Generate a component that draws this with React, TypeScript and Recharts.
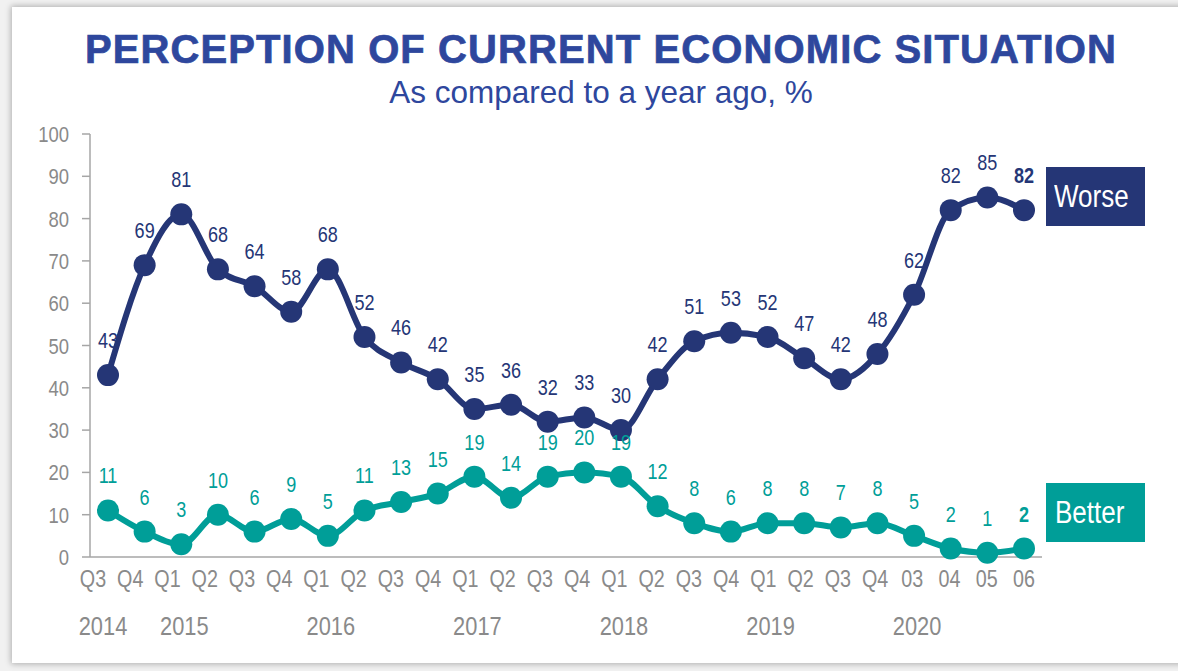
import React from "react";
import { LineChart, Line, XAxis, YAxis } from "recharts";

const quarters = ["Q3","Q4","Q1","Q2","Q3","Q4","Q1","Q2","Q3","Q4","Q1","Q2","Q3","Q4","Q1","Q2","Q3","Q4","Q1","Q2","Q3","Q4","03","04","05","06"];
const years = ["2014","","2015","","","","2016","","","","2017","","","","2018","","","","2019","","","","2020","","",""];
const worse = [43,69,81,68,64,58,68,52,46,42,35,36,32,33,30,42,51,53,52,47,42,48,62,82,85,82];
const better = [11,6,3,10,6,9,5,11,13,15,19,14,19,20,19,12,8,6,8,8,7,8,5,2,1,2];
const yTicks = [0,10,20,30,40,50,60,70,80,90,100];

const data = quarters.map((q, i) => ({ q, idx: i, worse: worse[i], better: better[i] }));

const NAVY = "#253676";
const TEAL = "#009E98";
const TITLE = "#2E479D";
const GRAY = "#8a8a8a";
const SANS = "'Liberation Sans', Arial, sans-serif";
const SQ = 0.84;

const NText = (p: any) => (
  <text
    transform={`translate(${p.x},${p.y}) scale(${SQ},1)`}
    textAnchor={p.anchor || "middle"}
    fill={p.fill}
    fontFamily={SANS}
    fontSize={p.size}
    fontWeight={p.weight || "normal"}
  >
    {p.children}
  </text>
);

const XTick = (props: any) => {
  const { x, y, payload } = props;
  const i = payload.index;
  const n = quarters.length - 1;
  const dx = -15 * (1 - i / n);
  return (
    <g>
      <NText x={x + dx} y={y + 30} fill={GRAY} size={23.5}>{quarters[i]}</NText>
      {years[i] ? <NText x={x + (i === 0 ? -5 : 3)} y={y + 78} fill={GRAY} size={26}>{years[i]}</NText> : null}
    </g>
  );
};

const YTick = (props: any) => {
  const { x, y, payload } = props;
  return <NText x={x} y={y + 8} fill={GRAY} size={22} anchor="end">{payload.value}</NText>;
};

const makeLabel = (color: string) => (props: any) => {
  const { x, y, value, index } = props;
  const last = index === quarters.length - 1;
  return (
    <NText x={x} y={y - 27} fill={color} size={21.5} weight={last ? "bold" : "normal"}>
      {value}
    </NText>
  );
};

const boxText: React.CSSProperties = {
  display: "inline-block",
  transform: `scaleX(${SQ})`,
  transformOrigin: "left center",
  fontFamily: SANS,
  fontSize: 31,
  color: "#fff",
  whiteSpace: "nowrap",
};

export default function App() {
  return (
    <div style={{ position: "absolute", left: 0, top: 0, width: 1178, height: 671, overflow: "hidden", background: "#f1f1f1" }}>
      <div style={{ position: "absolute", left: 12, top: 7, width: 1200, height: 656, background: "#fff", boxShadow: "0 0 6px 1px rgba(0,0,0,0.28)" }} />
      <div style={{ position: "absolute", left: 0, top: 29, width: 1202, textAlign: "center", fontFamily: SANS, fontWeight: "bold", fontSize: 40, lineHeight: "40px", letterSpacing: 1.1, color: TITLE, WebkitTextStroke: "0.7px " + TITLE }}>
        PERCEPTION OF CURRENT ECONOMIC SITUATION
      </div>
      <div style={{ position: "absolute", left: 0, top: 77, width: 1202, textAlign: "center", fontFamily: SANS, fontSize: 31.5, lineHeight: "31px", color: TITLE }}>
        As compared to a year ago, %
      </div>
      <div style={{ position: "absolute", left: 0, top: 0 }}>
        <LineChart width={1178} height={671} data={data} margin={{ top: 134, right: 136, bottom: 0, left: 0 }}>
          <XAxis
            dataKey="q"
            interval={0}
            padding={{ left: 18, right: 18 }}
            tickLine={false}
            tickSize={0}
            tickMargin={0}
            height={114}
            stroke="#a6a6a6"
            strokeWidth={1.5}
            tick={<XTick />}
          />
          <YAxis
            domain={[0, 100]}
            ticks={yTicks}
            interval={0}
            width={90}
            tickSize={8}
            tickMargin={13}
            stroke="#a6a6a6"
            strokeWidth={1.5}
            tick={<YTick />}
          />
          <Line
            type="monotone"
            dataKey="worse"
            stroke={NAVY}
            strokeWidth={6}
            dot={{ r: 11, fill: NAVY, stroke: NAVY, strokeWidth: 0 }}
            activeDot={false}
            isAnimationActive={false}
            label={makeLabel(NAVY)}
          />
          <Line
            type="monotone"
            dataKey="better"
            stroke={TEAL}
            strokeWidth={6}
            dot={{ r: 11, fill: TEAL, stroke: TEAL, strokeWidth: 0 }}
            activeDot={false}
            isAnimationActive={false}
            label={makeLabel(TEAL)}
          />
        </LineChart>
      </div>
      <div style={{ position: "absolute", left: 1046, top: 167, width: 99, height: 59, background: NAVY, display: "flex", alignItems: "center", paddingLeft: 8, boxSizing: "border-box", overflow: "hidden" }}>
        <span style={boxText}>Worse</span>
      </div>
      <div style={{ position: "absolute", left: 1046, top: 483, width: 99, height: 59, background: TEAL, display: "flex", alignItems: "center", paddingLeft: 9, boxSizing: "border-box", overflow: "hidden" }}>
        <span style={boxText}>Better</span>
      </div>
    </div>
  );
}
